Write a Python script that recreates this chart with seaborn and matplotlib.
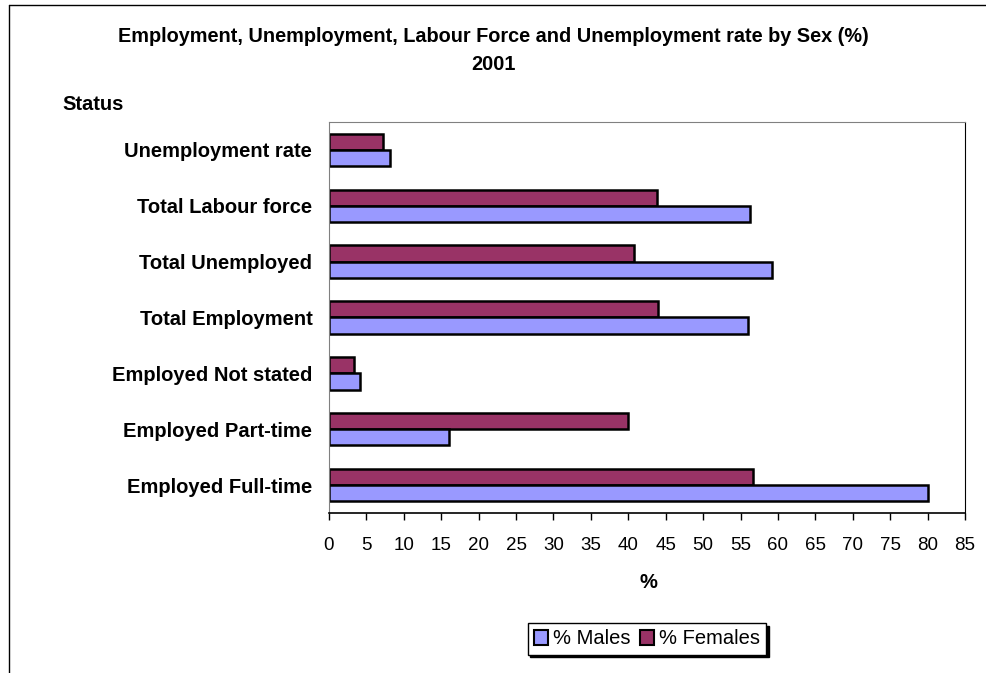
import matplotlib
matplotlib.use("Agg")
import matplotlib.pyplot as plt
import seaborn as sns
import pandas as pd
from matplotlib.patches import Patch
from matplotlib.lines import Line2D

# values (top to bottom)
categories = ['Unemployment rate', 'Total Labour force', 'Total Unemployed',
              'Total Employment', 'Employed Not stated', 'Employed Part-time',
              'Employed Full-time']
males = [8.2, 56.2, 59.2, 56.0, 4.1, 16.0, 80.0]
females = [7.2, 43.8, 40.8, 44.0, 3.3, 40.0, 56.7]
series_names = ['% Males', '% Females']
x_ticks = list(range(0, 90, 5))

colors = {'% Males': '#9999FF', '% Females': '#993366'}

df = pd.DataFrame({'Status': categories, '% Males': males, '% Females': females})
long_df = df.melt(id_vars='Status', var_name='Sex', value_name='Percent')

sns.set_style('white')
plt.rcParams['font.family'] = ['Liberation Sans', 'DejaVu Sans']
plt.rcParams['text.color'] = 'black'
plt.rcParams['xtick.color'] = 'black'
plt.rcParams['ytick.color'] = 'black'
plt.rcParams['axes.labelcolor'] = 'black'

W, H = 987, 673
fig = plt.figure(figsize=(W / 100, H / 100), dpi=100)

# plot area in pixel coordinates
left, right, top, bottom = 329, 965, 122, 513
ax = fig.add_axes([left / W, 1 - bottom / H, (right - left) / W, (bottom - top) / H])

sns.barplot(data=long_df, x='Percent', y='Status', hue='Sex', orient='h',
            order=categories, hue_order=['% Females', '% Males'],
            palette=colors, saturation=1, width=0.58, edgecolor='black',
            linewidth=1.8, ax=ax, legend=False)

ax.set_xlim(0, 85)
ax.set_xticks(x_ticks)
ax.set_xticklabels([str(t) for t in x_ticks], fontsize=13.5)
ax.tick_params(axis='x', direction='out', length=5, width=1, color='black', pad=12, bottom=True)
ax.tick_params(axis='y', length=0, pad=12)
for lbl in ax.get_yticklabels():
    lbl.set_fontweight('bold')
    lbl.set_fontsize(14.5)
ax.set_xlabel('')
ax.set_ylabel('')

for side in ['top', 'right', 'left', 'bottom']:
    ax.spines[side].set_visible(True)
ax.spines['top'].set_color('#808080')
ax.spines['left'].set_color('#808080')
ax.spines['right'].set_color('black')
ax.spines['bottom'].set_color('black')
ax.spines['bottom'].set_linewidth(1.2)

# titles and labels
fig.text(493 / W, 1 - 36 / H,
         'Employment, Unemployment, Labour Force and Unemployment rate by Sex (%)',
         ha='center', va='center', fontsize=14.3, fontweight='bold')
fig.text(493 / W, 1 - 64 / H, '2001', ha='center', va='center',
         fontsize=14.3, fontweight='bold')
fig.text(62 / W, 1 - 104 / H, 'Status', ha='left', va='center', fontsize=14.5, fontweight='bold')
fig.text(648 / W, 1 - 582 / H, '%', ha='center', va='center', fontsize=14.5, fontweight='bold')

# legend
handles = [Patch(facecolor=colors[n], edgecolor='black', linewidth=1.5) for n in series_names]
fig.legend(handles, series_names, loc='center', bbox_to_anchor=(647 / W, 1 - 639 / H),
           ncol=2, frameon=True, fancybox=False, edgecolor='black',
           shadow={'color': 'black', 'alpha': 1}, fontsize=14.5,
           handlelength=0.7, handleheight=0.7, handletextpad=0.25,
           columnspacing=0.5, borderpad=0.3, borderaxespad=0)

# outer chart border
fig.add_artist(Line2D([9 / W, 9 / W], [0, 1 - 5 / H], color='black', lw=1))
fig.add_artist(Line2D([9 / W, 1], [1 - 5 / H, 1 - 5 / H], color='black', lw=1))

fig.savefig('out.png', dpi=100)
